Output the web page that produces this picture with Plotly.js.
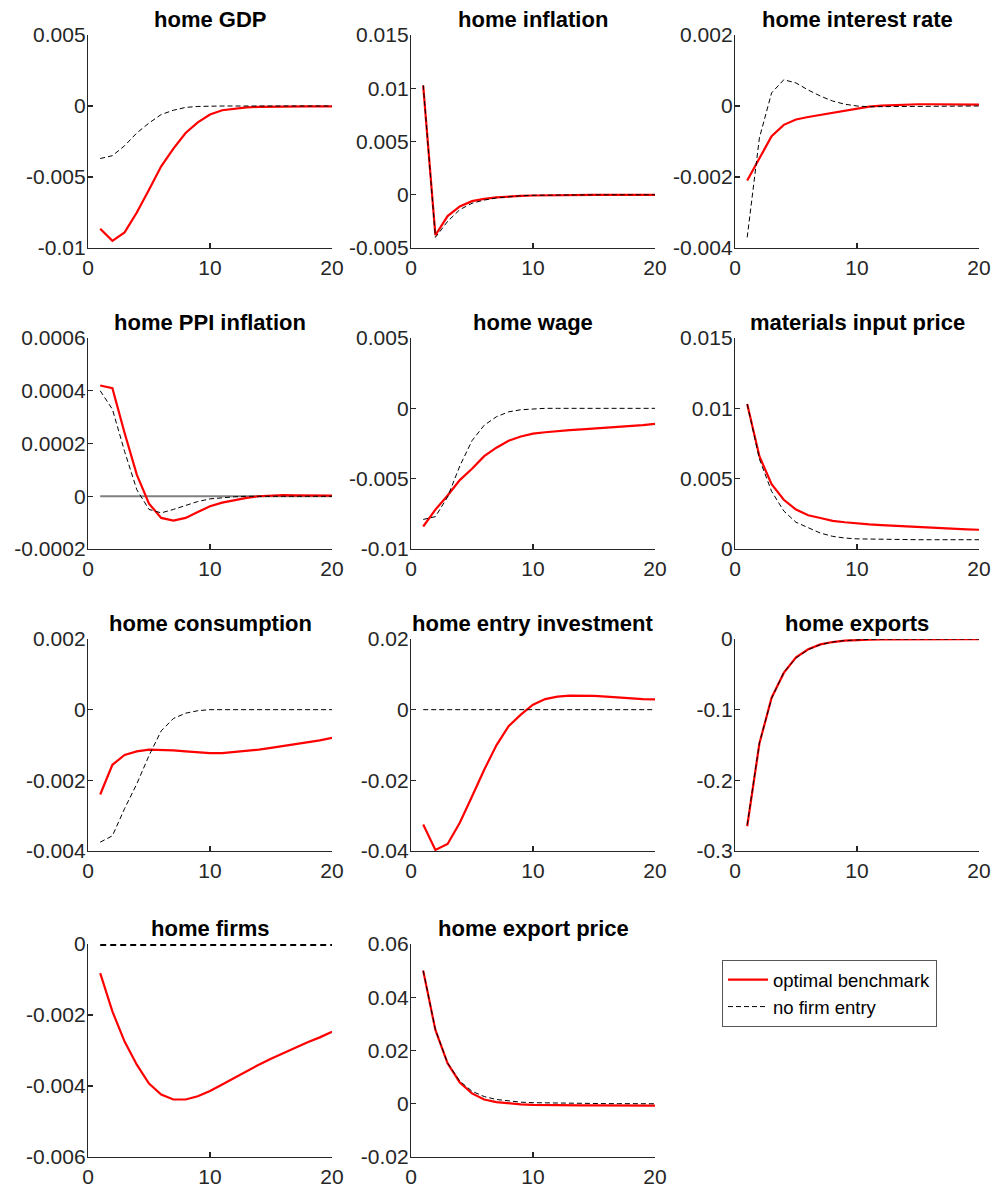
<!DOCTYPE html>
<html>
<head>
<meta charset="utf-8">
<script src="https://cdn.plot.ly/plotly-3.0.1.min.js"></script>
<style>html,body{margin:0;padding:0;background:#fff;}#chart{width:997px;height:1190px;}</style>
</head>
<body>
<div id="chart"></div>
<script>
// ---------- DATA ----------
const periods = [1,2,3,4,5,6,7,8,9,10,11,12,13,14,15,16,17,18,19,20];
const seriesNames = ["optimal benchmark", "no firm entry"];
const panelTitles = ["home GDP","home inflation","home interest rate","home PPI inflation","home wage","materials input price","home consumption","home entry investment","home exports","home firms","home export price"];

const gdpOpt = [-0.00864,-0.0095,-0.0089,-0.0075,-0.0059,-0.00425,-0.003,-0.0019,-0.00115,-0.0006,-0.0003,-0.00018,-0.0001,-0.00006,-0.00004,-0.00003,-0.00003,-0.00003,-0.00003,-0.00003];
const gdpNo  = [-0.0037,-0.0035,-0.0028,-0.0019,-0.0012,-0.0006,-0.0003,-0.0001,-0.00003,0,0,0,0,0,0,0,0,0,0,0];

const inflOpt = [0.01025,-0.0038,-0.002,-0.0011,-0.0006,-0.00038,-0.00025,-0.00016,-0.0001,-0.00007,-0.00005,-0.00004,-0.00003,-0.00003,-0.00002,-0.00002,-0.00002,-0.00002,-0.00002,-0.00002];
const inflNo  = [0.0103,-0.004,-0.0025,-0.0014,-0.0008,-0.0005,-0.0003,-0.00018,-0.0001,-0.00005,-0.00003,-0.00002,-0.00001,0,0,0,0,0,0,0];

const rateOpt = [-0.0021,-0.00146,-0.00085,-0.00053,-0.00038,-0.00031,-0.00025,-0.00019,-0.00013,-0.00007,-0.00002,0.00001,0.00003,0.00004,0.00005,0.00005,0.00005,0.00005,0.00004,0.00004];
const rateNo  = [-0.0037,-0.0009,0.00037,0.00074,0.00065,0.00045,0.00028,0.00014,0.00005,0,-0.00002,-0.00002,-0.00001,0,0,0,0,0,0,0];

const ppiOpt  = [0.00042,0.00041,0.00024,0.000082,-0.000028,-0.000082,-0.000092,-0.000082,-0.00006,-0.000038,-0.000024,-0.000014,-0.000006,0,0.000003,0.000004,0.000003,0.000003,0.000002,0.000002];
const ppiNo   = [0.0004,0.00033,0.00017,0.000025,-0.00005,-0.000063,-0.00005,-0.000035,-0.00002,-0.00001,-0.000005,-0.000002,0,0,0,0,0,0,0,0];
const ppiZero = [0,0,0,0,0,0,0,0,0,0,0,0,0,0,0,0,0,0,0,0];

const wageOpt = [-0.0084,-0.0072,-0.0062,-0.0051,-0.0043,-0.0034,-0.0028,-0.0023,-0.002,-0.0018,-0.0017,-0.0016,-0.00155,-0.0015,-0.00145,-0.0014,-0.00133,-0.00125,-0.0012,-0.0011];
const wageNo  = [-0.0079,-0.0077,-0.0063,-0.0041,-0.0023,-0.0012,-0.0006,-0.00025,-0.0001,-0.00003,0,0,0,0,0,0,0,0,0,0];

const matOpt = [0.0103,0.0066,0.0046,0.0035,0.0028,0.0024,0.0022,0.002,0.0019,0.0018,0.00175,0.0017,0.00165,0.0016,0.00155,0.0015,0.00148,0.00145,0.0014,0.00137];
const matNo  = [0.0103,0.0064,0.0041,0.0027,0.0019,0.0015,0.00113,0.0009,0.00078,0.00072,0.0007,0.00068,0.00067,0.00067,0.00066,0.00066,0.00066,0.00066,0.00066,0.00066];

const consOpt = [-0.0024,-0.00156,-0.00128,-0.00118,-0.00113,-0.00113,-0.00115,-0.00118,-0.00121,-0.00123,-0.00123,-0.0012,-0.00117,-0.00113,-0.00108,-0.00103,-0.00097,-0.00092,-0.00087,-0.0008];
const consNo  = [-0.00375,-0.00357,-0.0028,-0.0021,-0.0013,-0.0006,-0.00025,-0.0001,-0.00003,0,0,0,0,0,0,0,0,0,0,0];

const entryOpt = [-0.0325,-0.0397,-0.038,-0.032,-0.0246,-0.017,-0.0101,-0.0047,-0.0014,0.0014,0.003,0.0037,0.004,0.004,0.0039,0.0037,0.0034,0.0032,0.003,0.0029];
const entryNo  = [0,0,0,0,0,0,0,0,0,0,0,0,0,0,0,0,0,0,0,0];

const expOpt = [-0.265,-0.148,-0.083,-0.048,-0.026,-0.0146,-0.0076,-0.0043,-0.0024,-0.0014,-0.0009,-0.0006,-0.0004,-0.0003,-0.0003,-0.0002,-0.0002,-0.0002,-0.0002,-0.0002];
const expNo  = [-0.263,-0.147,-0.084,-0.047,-0.027,-0.015,-0.008,-0.0042,-0.0022,-0.0011,-0.0005,-0.0002,-0.0001,0,0,0,0,0,0,0];

const firmsOpt = [-0.00082,-0.0019,-0.00275,-0.0034,-0.00393,-0.00424,-0.00438,-0.00438,-0.00429,-0.00414,-0.00396,-0.00377,-0.00358,-0.0034,-0.00323,-0.00307,-0.00291,-0.00277,-0.00263,-0.00247];
const firmsNo  = [0,0,0,0,0,0,0,0,0,0,0,0,0,0,0,0,0,0,0,0];

const priceOpt = [0.05,0.0277,0.0152,0.008,0.0039,0.0016,0.0006,0.0001,-0.0002,-0.0004,-0.0005,-0.0005,-0.0006,-0.0006,-0.0006,-0.0006,-0.0006,-0.0006,-0.0007,-0.0007];
const priceNo  = [0.05,0.0278,0.0153,0.0085,0.0047,0.0027,0.0016,0.001,0.0006,0.0004,0.0003,0.0002,0.00015,0.0001,0.0001,0.00005,0.00005,0,0,0];

const xTickVals = [0,10,20];
const xTickText = ["0","10","20"];

const yTickVals = [
  [-0.01,-0.005,0,0.005],
  [-0.005,0,0.005,0.01,0.015],
  [-0.004,-0.002,0,0.002],
  [-0.0002,0,0.0002,0.0004,0.0006],
  [-0.01,-0.005,0,0.005],
  [0,0.005,0.01,0.015],
  [-0.004,-0.002,0,0.002],
  [-0.04,-0.02,0,0.02],
  [-0.3,-0.2,-0.1,0],
  [-0.006,-0.004,-0.002,0],
  [-0.02,0,0.02,0.04,0.06]
];
const yTickText = [
  ["-0.01","-0.005","0","0.005"],
  ["-0.005","0","0.005","0.01","0.015"],
  ["-0.004","-0.002","0","0.002"],
  ["-0.0002","0","0.0002","0.0004","0.0006"],
  ["-0.01","-0.005","0","0.005"],
  ["0","0.005","0.01","0.015"],
  ["-0.004","-0.002","0","0.002"],
  ["-0.04","-0.02","0","0.02"],
  ["-0.3","-0.2","-0.1","0"],
  ["-0.006","-0.004","-0.002","0"],
  ["-0.02","0","0.02","0.04","0.06"]
];

const optSeries = [gdpOpt,inflOpt,rateOpt,ppiOpt,wageOpt,matOpt,consOpt,entryOpt,expOpt,firmsOpt,priceOpt];
const noSeries  = [gdpNo,inflNo,rateNo,ppiNo,wageNo,matNo,consNo,entryNo,expNo,firmsNo,priceNo];

// ---------- LAYOUT ----------
const W = 997, H = 1190;
const colPx = [[88,332],[411,655],[735,979]];
const rowPx = [[35,248],[338,549],[639,851],[944,1157]];
const axisColor = '#262626';
const fontFam = 'Liberation Sans, Arial, Helvetica, sans-serif';

const layout = {
  width: W, height: H,
  margin: {l:0, r:0, t:0, b:0},
  paper_bgcolor: '#fff', plot_bgcolor: 'rgba(0,0,0,0)',
  showlegend: true,
  legend: {
    x: 722/W, y: 1-960/H, xanchor: 'left', yanchor: 'top',
    bordercolor: '#555', borderwidth: 1, bgcolor: '#fff',
    font: {family: fontFam, size: 18.5, color: '#000'},
    tracegroupgap: 0, itemwidth: 40
  },
  annotations: [],
  font: {family: fontFam}
};

const traces = [];
for (let i = 0; i < 11; i++) {
  const r = Math.floor(i/3), c = i % 3;
  const n = i + 1;
  const xa = 'xaxis' + (n === 1 ? '' : n);
  const ya = 'yaxis' + (n === 1 ? '' : n);
  const xref = 'x' + (n === 1 ? '' : n);
  const yref = 'y' + (n === 1 ? '' : n);
  const yVals = yTickVals[i];
  layout[xa] = {
    domain: [colPx[c][0]/W, colPx[c][1]/W],
    anchor: yref, range: [0,20],
    tickmode: 'array', tickvals: xTickVals, ticktext: xTickText,
    showline: true, linecolor: axisColor, linewidth: 1.2,
    ticks: 'inside', ticklen: 5, tickcolor: axisColor, tickwidth: 1.2,
    showgrid: false, zeroline: false, fixedrange: true,
    ticklabelstandoff: 1,
    tickfont: {family: fontFam, size: 21, color: axisColor}
  };
  layout[ya] = {
    domain: [1 - rowPx[r][1]/H, 1 - rowPx[r][0]/H],
    anchor: xref, range: [yVals[0], yVals[yVals.length-1]],
    tickmode: 'array', tickvals: yVals, ticktext: yTickText[i],
    showline: true, linecolor: axisColor, linewidth: 1.2,
    ticks: 'inside', ticklen: 5, tickcolor: axisColor, tickwidth: 1.2,
    showgrid: false, zeroline: false, fixedrange: true,
    ticklabelstandoff: -3,
    tickfont: {family: fontFam, size: 21, color: axisColor}
  };
  layout.annotations.push({
    text: '<b>' + panelTitles[i] + '</b>',
    xref: 'paper', yref: 'paper',
    x: (colPx[c][0] + colPx[c][1]) / 2 / W,
    y: 1 - rowPx[r][0]/H,
    xanchor: 'center', yanchor: 'bottom', yshift: 1,
    showarrow: false,
    font: {family: fontFam, size: 22, color: '#000'}
  });
  if (i === 3) {
    traces.push({
      x: periods, y: ppiZero, xaxis: xref, yaxis: yref,
      mode: 'lines', line: {color: '#808080', width: 2},
      showlegend: false, hoverinfo: 'skip'
    });
  }
  traces.push({
    x: periods, y: optSeries[i], xaxis: xref, yaxis: yref,
    mode: 'lines', name: seriesNames[0], legendgroup: 'opt',
    line: {color: '#ff0000', width: 2.2},
    showlegend: i === 0
  });
  traces.push({
    x: periods, y: noSeries[i], xaxis: xref, yaxis: yref,
    mode: 'lines', name: seriesNames[1], legendgroup: 'no',
    line: {color: '#000000', width: i === 9 ? 4 : 1, dash: i === 9 ? '6px,4px' : '5px,3px'},
    showlegend: i === 0
  });
}

Plotly.newPlot('chart', traces, layout, {staticPlot: true, displayModeBar: false});
</script>
</body>
</html>
